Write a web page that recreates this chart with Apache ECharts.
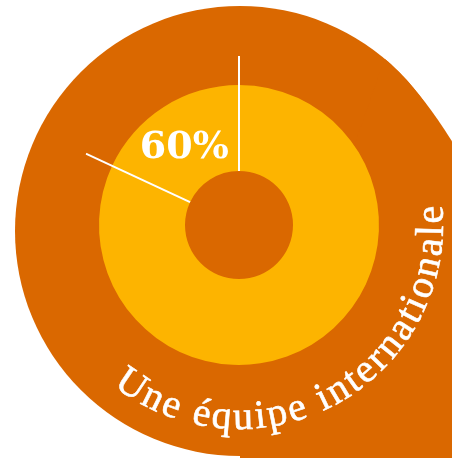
<!DOCTYPE html>
<html>
<head>
<meta charset="utf-8">
<script src="https://cdn.jsdelivr.net/npm/echarts@6/dist/echarts.min.js"></script>
<style>
html,body{margin:0;padding:0;background:#fff;}
#chart{width:452px;height:458px;}
</style>
</head>
<body>
<div id="chart"></div>
<script>
// ---- data ----
const CATEGORIES = ['Une équipe internationale', 'Autres'];
const SHARE_VALUES = [65, 295];          // wedge sizes (degrees of the ring)
const SHARE_LABELS = ['60%', ''];
const DIVIDER_ANGLES = [90, 155];        // angles of the white divider lines
const DIVIDER_RADII = [54, 169];         // inner / outer radius of dividers
const TITLE = 'Une équipe internationale';

// ---- styles ----
const ORANGE = '#DA6800';
const YELLOW = '#FDB400';
const CX = 239, CY = 225;
const BG_CX = 240, BG_CY = 231, BG_R = 225;

const chart = echarts.init(document.getElementById('chart'), null, {renderer: 'canvas'});

// background bulge on the right (quadratic curve tangent to the circle, sampled)
function bulgePoints() {
  const a = -50 * Math.PI / 180;
  const p0 = [BG_CX + BG_R * Math.cos(a), BG_CY + BG_R * Math.sin(a)];
  const tx = -Math.sin(a), ty = Math.cos(a);
  const p1 = [p0[0] + 60 * tx, p0[1] + 60 * ty];
  const p2 = [480, 190];
  const pts = [];
  for (let i = 0; i <= 30; i++) {
    const t = i / 30, u = 1 - t;
    pts.push([u * u * p0[0] + 2 * u * t * p1[0] + t * t * p2[0],
              u * u * p0[1] + 2 * u * t * p1[1] + t * t * p2[1]]);
  }
  pts.push([480, 300], [300, 300]);
  return pts;
}

// curved title characters
function curvedText() {
  const fontSize = 40;
  const font = fontSize + 'px "Liberation Serif"';
  const ctx = document.createElement('canvas').getContext('2d');
  ctx.font = font;
  const chars = Array.from(TITLE);
  const widths = chars.map(c => ctx.measureText(c).width);
  const Rb = 207;               // baseline radius
  const Rm = Rb - 13.5;         // middle radius
  const thStart = 128 * Math.PI / 180;
  const thEnd = -5.5 * Math.PI / 180;
  const total = widths.reduce((a, b) => a + b, 0);
  const arc = Rb * (thStart - thEnd);
  const gap = (arc - total) / (chars.length - 1);
  const els = [];
  let s = 0;
  chars.forEach((c, i) => {
    const mid = s + widths[i] / 2;
    const th = thStart - mid / Rb;
    s += widths[i] + gap;
    if (c === ' ') return;
    els.push({
      type: 'text',
      z: 100,
      x: CX + Rm * Math.cos(th),
      y: CY + Rm * Math.sin(th),
      rotation: Math.PI / 2 - th,
      style: {
        text: c,
        font: font,
        fill: '#fff',
        stroke: '#fff',
        lineWidth: 0.6,
        align: 'center',
        verticalAlign: 'middle'
      },
      silent: true
    });
  });
  return els;
}

const dividerSeries = DIVIDER_ANGLES.map(a => ({
  type: 'line',
  coordinateSystem: 'polar',
  data: [[DIVIDER_RADII[0], a], [DIVIDER_RADII[1], a]],
  symbol: 'none',
  silent: true,
  z: 5,
  lineStyle: {color: '#fff', width: 2}
}));

chart.setOption({
  animation: false,
  graphic: [
    {type: 'circle', z: -10, silent: true, shape: {cx: BG_CX, cy: BG_CY, r: BG_R}, style: {fill: ORANGE}},
    {type: 'rect', z: -10, silent: true, shape: {x: BG_CX, y: BG_CY, width: 460 - BG_CX, height: 460 - BG_CY}, style: {fill: ORANGE}},
    {type: 'polygon', z: -10, silent: true, shape: {points: bulgePoints()}, style: {fill: ORANGE}}
  ].concat(curvedText()),
  polar: {center: [CX, CY], radius: DIVIDER_RADII[1]},
  angleAxis: {type: 'value', min: 0, max: 360, startAngle: 0, clockwise: false, show: false},
  radiusAxis: {type: 'value', min: 0, max: DIVIDER_RADII[1], show: false},
  series: [
    {
      type: 'pie',
      center: [CX, CY],
      radius: [54, 140],
      startAngle: 90,
      clockwise: false,
      silent: true,
      z: 2,
      itemStyle: {color: YELLOW},
      label: {
        show: true,
        position: 'inside',
        color: '#fff',
        fontFamily: 'DejaVu Serif',
        fontWeight: 'bold',
        fontSize: 38,
        offset: [-1, 7],
        formatter: p => SHARE_LABELS[p.dataIndex]
      },
      labelLine: {show: false},
      data: CATEGORIES.map((n, i) => ({name: n, value: SHARE_VALUES[i]}))
    }
  ].concat(dividerSeries)
});
</script>
</body>
</html>
